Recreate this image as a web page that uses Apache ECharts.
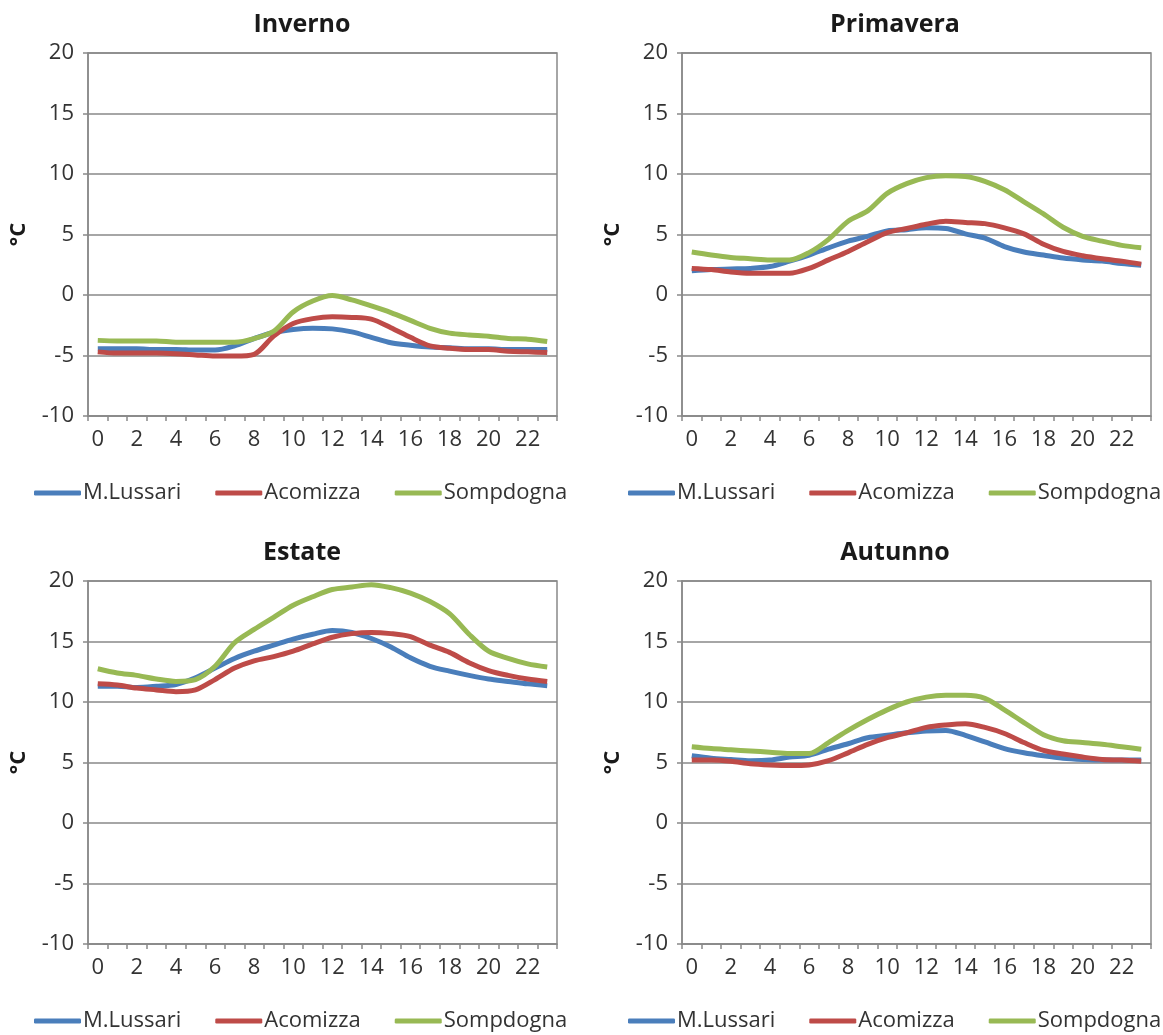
<!DOCTYPE html>
<html>
<head>
<meta charset="utf-8">
<script src="https://cdn.jsdelivr.net/npm/echarts@6/dist/echarts.min.js"></script>
<style>
html, body { margin: 0; padding: 0; background: #fff; }
#main { width: 1163px; height: 1035px; }
</style>
</head>
<body>
<div id="main"></div>
<script>
// ore del giorno
var hours = [];
for (var h = 0; h < 24; h++) { hours.push(String(h)); }

var stations = ['M.Lussari', 'Acomizza', 'Sompdogna'];
var seasons = ['Inverno', 'Primavera', 'Estate', 'Autunno'];

// Inverno
var invLussari = [-4.45, -4.45, -4.45, -4.5, -4.5, -4.55, -4.55, -4.2, -3.6, -3.1, -2.85, -2.75, -2.8, -3.05, -3.5, -3.95, -4.15, -4.3, -4.35, -4.45, -4.45, -4.5, -4.5, -4.5];
var invAcomizza = [-4.7, -4.8, -4.8, -4.8, -4.85, -4.95, -5.05, -5.05, -4.9, -3.4, -2.35, -1.95, -1.8, -1.85, -2.0, -2.7, -3.5, -4.2, -4.4, -4.5, -4.5, -4.65, -4.7, -4.75];
var invSompdogna = [-3.75, -3.8, -3.8, -3.8, -3.9, -3.9, -3.9, -3.9, -3.6, -3.0, -1.4, -0.5, -0.05, -0.4, -0.9, -1.45, -2.1, -2.75, -3.15, -3.3, -3.4, -3.6, -3.65, -3.85];

// Primavera
var priLussari = [2.0, 2.1, 2.15, 2.2, 2.35, 2.8, 3.3, 3.9, 4.45, 4.85, 5.3, 5.4, 5.55, 5.5, 5.05, 4.7, 4.0, 3.55, 3.3, 3.05, 2.9, 2.8, 2.6, 2.45];
var priAcomizza = [2.2, 2.1, 1.9, 1.8, 1.8, 1.8, 2.2, 2.9, 3.6, 4.4, 5.15, 5.5, 5.85, 6.1, 6.0, 5.9, 5.55, 5.05, 4.2, 3.6, 3.25, 3.0, 2.8, 2.55];
var priSompdogna = [3.55, 3.3, 3.1, 3.0, 2.9, 2.9, 3.5, 4.6, 6.1, 6.95, 8.4, 9.2, 9.7, 9.85, 9.8, 9.4, 8.7, 7.7, 6.7, 5.6, 4.85, 4.45, 4.1, 3.9];

// Estate
var estLussari = [11.3, 11.3, 11.2, 11.3, 11.45, 12.0, 12.8, 13.6, 14.2, 14.7, 15.2, 15.6, 15.9, 15.75, 15.25, 14.55, 13.65, 12.95, 12.55, 12.2, 11.9, 11.7, 11.5, 11.35];
var estAcomizza = [11.5, 11.4, 11.15, 11.0, 10.85, 11.0, 11.85, 12.8, 13.4, 13.75, 14.2, 14.8, 15.35, 15.65, 15.75, 15.65, 15.4, 14.7, 14.1, 13.25, 12.6, 12.2, 11.9, 11.7];
var estSompdogna = [12.75, 12.4, 12.2, 11.9, 11.7, 11.85, 12.95, 14.9, 16.0, 17.0, 18.0, 18.7, 19.3, 19.5, 19.7, 19.45, 19.0, 18.3, 17.3, 15.6, 14.2, 13.6, 13.15, 12.9];

// Autunno
var autLussari = [5.55, 5.35, 5.25, 5.15, 5.2, 5.45, 5.6, 6.1, 6.55, 7.05, 7.25, 7.45, 7.6, 7.65, 7.25, 6.7, 6.15, 5.8, 5.55, 5.35, 5.25, 5.2, 5.2, 5.2];
var autAcomizza = [5.2, 5.2, 5.1, 4.9, 4.8, 4.75, 4.8, 5.15, 5.8, 6.5, 7.05, 7.45, 7.9, 8.1, 8.2, 7.9, 7.4, 6.65, 6.0, 5.7, 5.45, 5.25, 5.2, 5.1];
var autSompdogna = [6.3, 6.15, 6.05, 5.95, 5.85, 5.75, 5.75, 6.65, 7.65, 8.55, 9.35, 10.0, 10.4, 10.55, 10.55, 10.3, 9.35, 8.3, 7.3, 6.8, 6.65, 6.5, 6.3, 6.1];

var seasonData = [
    [invLussari, invAcomizza, invSompdogna],
    [priLussari, priAcomizza, priSompdogna],
    [estLussari, estAcomizza, estSompdogna],
    [autLussari, autAcomizza, autSompdogna]
];

var colors = ['#4a7ebb', '#be4b48', '#98b954'];
var font = 'Open Sans';
var axisGray = '#898989';

// posizione dei 4 pannelli
var panels = [
    { left: 88, top: 53, cx: 297, ty: 7, legendLeft: 34, legendTop: 482 },
    { left: 682, top: 53, cx: 890, ty: 7, legendLeft: 628, legendTop: 482 },
    { left: 88, top: 581, cx: 297, ty: 535, legendLeft: 34, legendTop: 1010 },
    { left: 682, top: 581, cx: 890, ty: 535, legendLeft: 628, legendTop: 1010 }
];

var grids = [], xAxes = [], yAxes = [], series = [], titles = [], legends = [];

for (var i = 0; i < 4; i++) {
    var p = panels[i];
    titles.push({
        text: seasons[i],
        left: p.cx,
        top: p.ty,
        textAlign: 'center',
        textStyle: { fontFamily: font, fontSize: 25, fontWeight: 'bold', color: '#1a1a1a' }
    });
    grids.push({
        left: p.left,
        top: p.top,
        width: 469,
        height: 363,
        show: true,
        borderColor: axisGray,
        borderWidth: 1.5,
        backgroundColor: '#fff'
    });
    xAxes.push({
        type: 'category',
        gridIndex: i,
        data: hours,
        boundaryGap: true,
        axisLine: { show: true, onZero: false, lineStyle: { color: axisGray, width: 1.5 } },
        axisTick: { show: true, interval: 0, length: 5, lineStyle: { color: axisGray, width: 1.5 } },
        axisLabel: { interval: 1, margin: 13, fontFamily: font, fontSize: 22, color: '#333' },
        splitLine: { show: false }
    });
    yAxes.push({
        type: 'value',
        gridIndex: i,
        min: -10,
        max: 20,
        interval: 5,
        name: '°C',
        nameLocation: 'middle',
        nameGap: 58,
        nameRotate: 90,
        nameTextStyle: { fontFamily: font, fontSize: 22, fontWeight: 'bold', color: '#1a1a1a' },
        axisLine: { show: true, lineStyle: { color: axisGray, width: 1.5 } },
        axisTick: { show: true, length: 5, lineStyle: { color: axisGray, width: 1.5 } },
        axisLabel: { margin: 14, fontFamily: font, fontSize: 22, color: '#333' },
        splitLine: { show: true, lineStyle: { color: axisGray, width: 1.5 } }
    });
    legends.push({
        left: p.legendLeft,
        top: p.legendTop,
        width: 600,
        padding: 0,
        orient: 'horizontal',
        icon: 'roundRect',
        itemWidth: 47,
        itemHeight: 5,
        itemGap: 34,
        data: stations,
        textStyle: { fontFamily: font, fontSize: 22, color: '#333', padding: [0, 0, 0, -3] }
    });
    for (var s = 0; s < 3; s++) {
        series.push({
            name: stations[s],
            type: 'line',
            xAxisIndex: i,
            yAxisIndex: i,
            data: seasonData[i][s],
            smooth: 0.3,
            showSymbol: false,
            symbol: 'none',
            lineStyle: { width: 5, color: colors[s] },
            itemStyle: { color: colors[s] },
            z: 3 + s
        });
    }
}

var chart = echarts.init(document.getElementById('main'));
var option = {
    animation: false,
    backgroundColor: '#fff',
    title: titles,
    legend: legends,
    grid: grids,
    xAxis: xAxes,
    yAxis: yAxes,
    series: series
};
chart.setOption(option);
window.addEventListener('resize', function () {
    chart.resize();
});
</script>
</body>
</html>
